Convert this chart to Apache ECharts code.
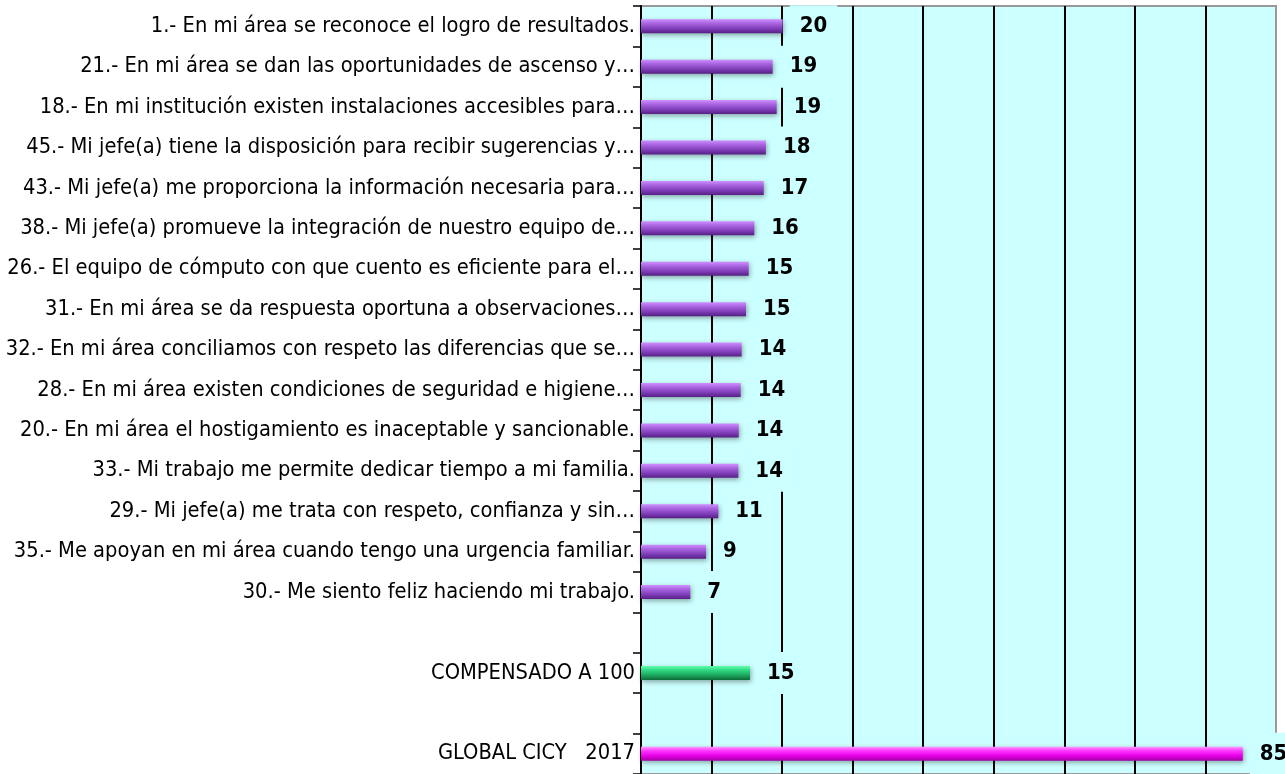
<!DOCTYPE html>
<html>
<head>
<meta charset="utf-8">
<script src="https://cdn.jsdelivr.net/npm/echarts@6/dist/echarts.min.js"></script>
<style>
html,body{margin:0;padding:0;background:#fff;}
#chart{width:1285px;height:774px;}
</style>
</head>
<body>
<div id="chart"></div>
<script>
var categories = [
  '1.- En mi área se reconoce el logro de resultados.',
  '21.- En mi área se dan las oportunidades de ascenso y…',
  '18.- En mi institución existen instalaciones accesibles para…',
  '45.- Mi jefe(a) tiene la disposición para recibir sugerencias y…',
  '43.- Mi jefe(a) me proporciona la información necesaria para…',
  '38.- Mi jefe(a) promueve la integración de nuestro equipo de…',
  '26.- El equipo de cómputo con que cuento es eficiente para el…',
  '31.- En mi área se da respuesta oportuna a observaciones…',
  '32.- En mi área conciliamos con respeto las diferencias que se…',
  '28.- En mi área existen condiciones de seguridad e higiene…',
  '20.- En mi área el hostigamiento es inaceptable y sancionable.',
  '33.- Mi trabajo me permite dedicar tiempo a mi familia.',
  '29.- Mi jefe(a) me trata con respeto, confianza y sin…',
  '35.- Me apoyan en mi área cuando tengo una urgencia familiar.',
  '30.- Me siento feliz haciendo mi trabajo.',
  '',
  'COMPENSADO A 100',
  '',
  'GLOBAL CICY   2017'
];
var values = [20.08, 18.66, 19.23, 17.7, 17.4, 16.06, 15.26, 14.88, 14.27, 14.13, 13.85, 13.8, 10.96, 9.21, 6.99, null, 15.45, null, 85.3];
var kinds  = ['p','p','p','p','p','p','p','p','p','p','p','p','p','p','p','-','g','-','m'];
var xTicks = [0, 90, 10];

var grads = {
  p: ['#cf90ff', '#a964e0', '#8240bb', '#561f85'],
  g: ['#62ffb0', '#30d883', '#1ca85e', '#0e6b38'],
  m: ['#ff99ff', '#ff33ff', '#e600e6', '#a000a0']
};
function mkGrad(k){
  var c = grads[k];
  return new echarts.graphic.LinearGradient(0,0,0,1,[
    {offset:0,color:c[0]},{offset:0.3,color:c[1]},{offset:0.65,color:c[2]},{offset:1,color:c[3]}
  ]);
}
var data = values.map(function(v,i){
  if (v === null) return '-';
  return {value: v, itemStyle: {color: mkGrad(kinds[i])}};
});

var FONT = '"Liberation Sans Narrow", "Arial Narrow", "DejaVu Sans Condensed", sans-serif';
var chart = echarts.init(document.getElementById('chart'), null, {renderer:'canvas'});
chart.setOption({
  animation: false,
  grid: {left: 641, right: 9, top: 6, bottom: -5, show: true, backgroundColor: '#ccffff', borderColor: '#999999', borderWidth: 2, containLabel: false},
  xAxis: {
    type: 'value', min: xTicks[0], max: xTicks[1], interval: xTicks[2],
    axisLabel: {show: false}, axisTick: {show: false}, axisLine: {show: false},
    splitLine: {show: true, showMinLine: false, showMaxLine: false, lineStyle: {color: '#000', width: 2}}
  },
  yAxis: {
    type: 'category', inverse: true, data: categories,
    axisLine: {show: true, lineStyle: {color: '#000', width: 2}},
    axisTick: {show: true, length: 8, lineStyle: {color: '#000', width: 1.5}},
    axisLabel: {color: '#000', fontFamily: FONT, fontSize: 21.7, margin: 6}
  },
  series: [{
    type: 'bar', data: data, barWidth: 14,
    itemStyle: {shadowBlur: 5, shadowColor: 'rgba(0,0,0,0.35)', shadowOffsetX: 1, shadowOffsetY: 2},
    label: {
      show: true, position: 'right', distance: 7,
      formatter: function(p){ return Math.round(p.value); },
      fontFamily: FONT,
      fontWeight: 'bold', fontSize: 22, color: '#000',
      backgroundColor: '#ccffff', padding: [10, 10, 10, 10]
    }
  }]
});
</script>
</body>
</html>
